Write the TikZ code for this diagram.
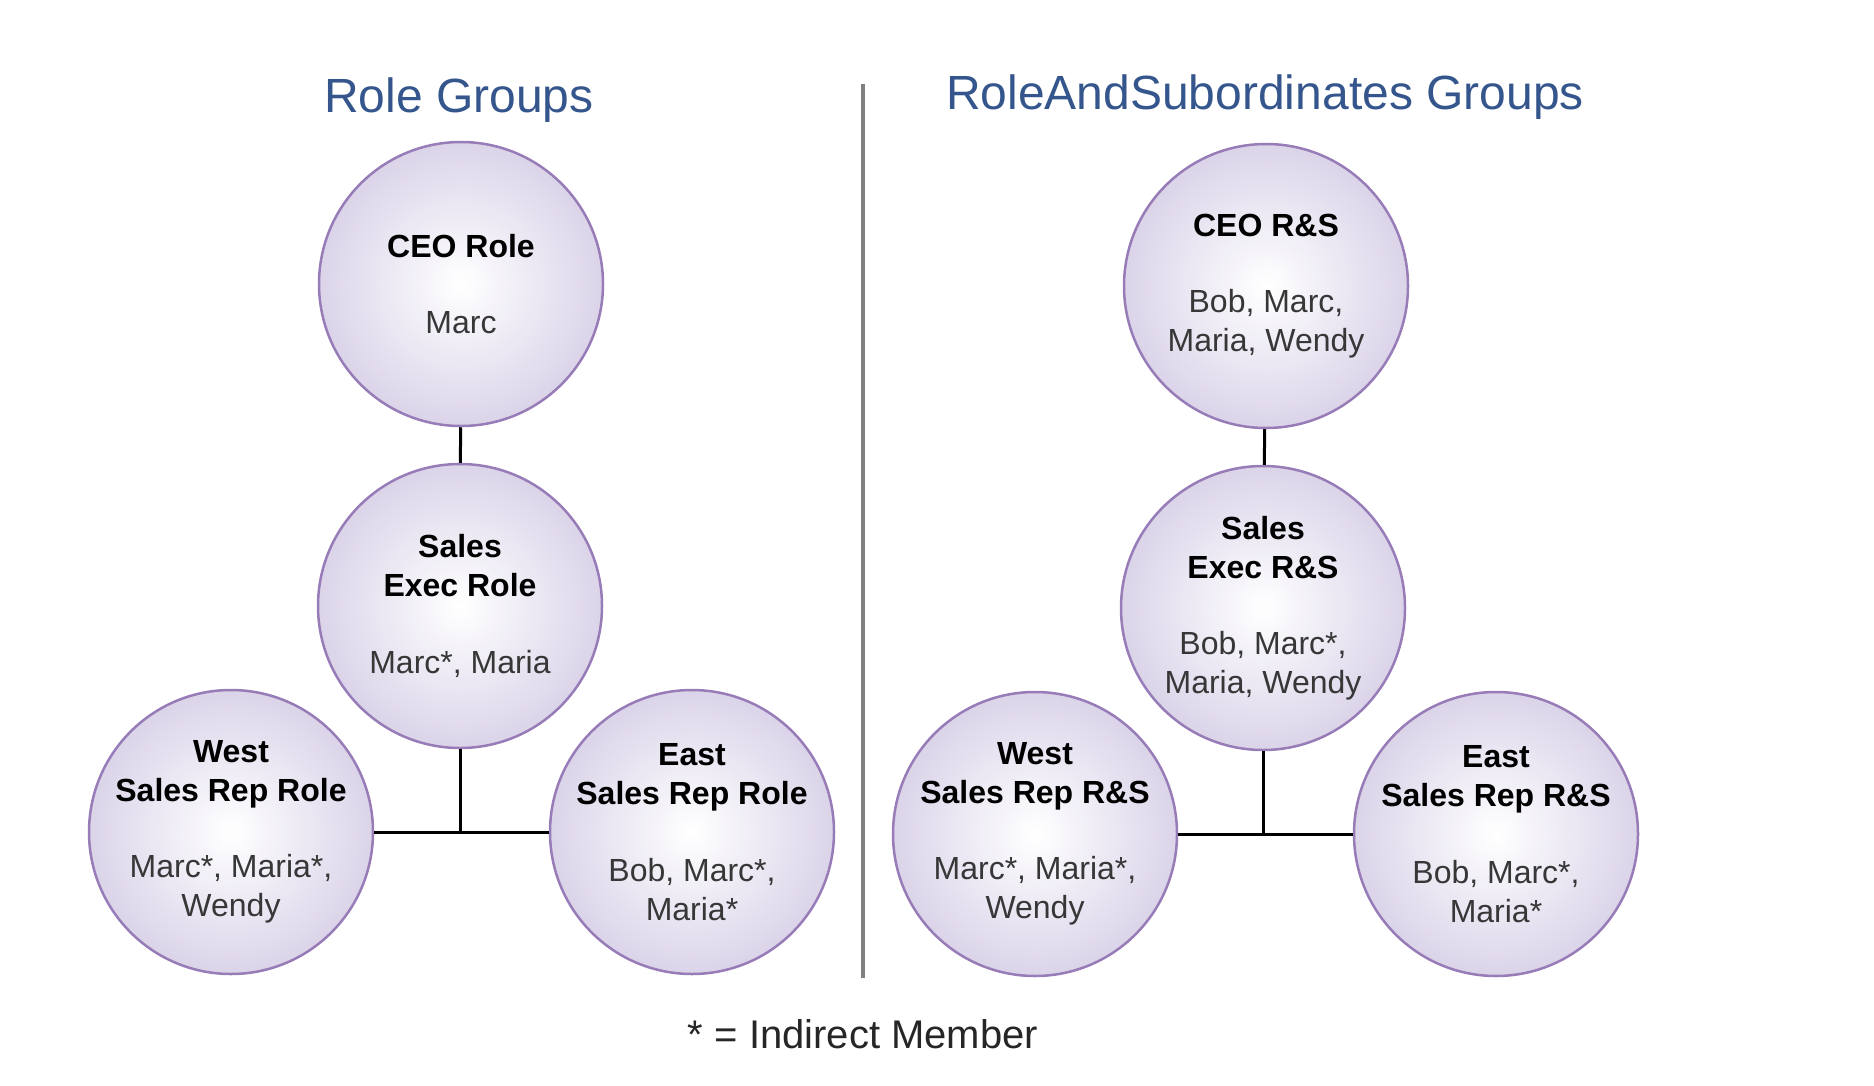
\documentclass[tikz,border=0pt]{standalone}
\usepackage{fontspec}
\setmainfont{Liberation Sans}
\usepackage{tikz}
\usetikzlibrary{positioning}

\definecolor{titleblue}{RGB}{52,86,140}
\definecolor{ringpurple}{RGB}{152,124,184}
\definecolor{lavender}{RGB}{219,212,233}
\definecolor{membergray}{RGB}{55,55,55}
\definecolor{sepgray}{RGB}{128,128,128}

\tikzset{
  group/.style={circle, draw=ringpurple, line width=1pt, inner color=white, outer color=lavender,
    minimum size=113.6pt, inner sep=-30pt, align=center, font=\fontsize{12.8}{15.6}\selectfont},
  heading/.style={text=titleblue, inner sep=0pt, font=\fontsize{19.2}{23}\selectfont},
  link/.style={line width=1.2pt, black},
}
\newcommand{\hd}[1]{\textbf{#1}}
\newcommand{\mb}[1]{\textcolor{membergray}{#1}}

\begin{document}
\begin{tikzpicture}[x=0.4pt,y=0.4pt,yscale=-1,xscale=1]
\useasboundingbox (0,0) rectangle (1874,1086);

% Text Node
\node[heading] (roleTitle) at (459,100) {Role Groups};
% Text Node
\node[heading] (rsTitle) at (1265,97) {RoleAndSubordinates Groups};

%Straight Lines: separator
\coordinate (sepTop) at (863,84);
\coordinate (sepBot) at (863,978);
\draw[sepgray, line width=1.4pt] (sepTop) -- (sepBot);

%Shape: Circle (role groups)
\node[group] (ceoRole) at (461,284) {\hd{CEO Role}\\[15pt]\mb{Marc}};
\node[group] (execRole) at (460,606) {\hd{Sales}\\\hd{Exec Role}\\[15pt]\mb{Marc*, Maria}};
\node[group] (westRole) at (231,832) {\hd{West}\\\hd{Sales Rep Role}\\[15pt]\mb{Marc*, Maria*,}\\\mb{Wendy}};
\node[group] (eastRole) at (692,832) {\hd{East}\\\hd{Sales Rep Role}\\[15pt]\mb{Bob, Marc*,}\\\mb{Maria*}};

%Shape: Circle (role and subordinates groups)
\node[group] (ceoRS) at (1266,286) {\hd{CEO R\&S}\\[15pt]\mb{Bob, Marc,}\\\mb{Maria, Wendy}};
\node[group] (execRS) at (1263,608) {\hd{Sales}\\\hd{Exec R\&S}\\[15pt]\mb{Bob, Marc*,}\\\mb{Maria, Wendy}};
\node[group] (westRS) at (1035,834) {\hd{West}\\\hd{Sales Rep R\&S}\\[15pt]\mb{Marc*, Maria*,}\\\mb{Wendy}};
\node[group] (eastRS) at (1496,834) {\hd{East}\\\hd{Sales Rep R\&S}\\[15pt]\mb{Bob, Marc*,}\\\mb{Maria*}};

%Straight Lines
\draw[link] (ceoRole) -- (execRole);
\draw[link] (execRole.south) -- (execRole.south |- westRole.east);
\draw[link] (westRole) -- (eastRole);
\draw[link] (ceoRS) -- (execRS);
\draw[link] (execRS.south) -- (execRS.south |- westRS.east);
\draw[link] (westRS) -- (eastRS);

% Text Node
\node[inner sep=0pt, font=\fontsize{16}{19}\selectfont, text=black!85] (note) at (863,1034) {* = Indirect Member};
\end{tikzpicture}
\end{document}
